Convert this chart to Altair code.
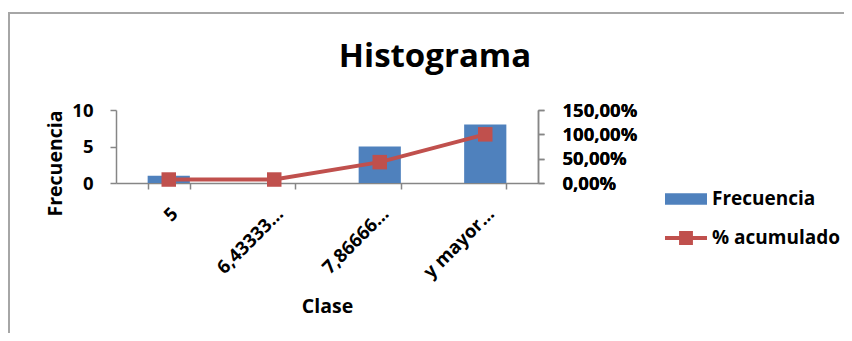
import altair as alt
import pandas as pd

# ---- data ----
clases = ["5", "6,43333…", "7,86666…", "y mayor…"]
frecuencia = [1, 0, 5, 8]
acumulado = [0.0714, 0.0714, 0.4286, 1.0]
freq_ticks = [0, 5, 10]
pct_ticks = [0, 0.5, 1.0, 1.5]

df = pd.DataFrame({"Clase": clases, "Frecuencia": frecuencia, "Acumulado": acumulado})
df["s1"] = "Frecuencia"
df["s2"] = "% acumulado"

BLUE = "#4F81BD"
RED = "#C0504D"
FONT = "Open Sans"
AX = "#868686"

x = alt.X(
    "Clase:N",
    sort=clases,
    scale=alt.Scale(paddingInner=0.6, paddingOuter=0.3),
    axis=alt.Axis(
        title="Clase",
        labelAngle=-45,
        tickBand="extent",
        labelPadding=15,
        labelOffset=-1,
        titleX=211,
        titleY=123,
        titleBaseline="middle",
        titleAlign="center",
    ),
)

bars = (
    alt.Chart(df)
    .mark_bar()
    .encode(
        x=x,
        y=alt.Y(
            "Frecuencia:Q",
            scale=alt.Scale(domain=[0, 10], nice=False),
            axis=alt.Axis(
                title="Frecuencia",
                values=freq_ticks,
                orient="left",
                labelPadding=17,
                titleX=-61,
                titleY=53,
                titleAngle=270,
                titleAlign="center",
                titleBaseline="middle",
            ),
        ),
        fill=alt.Fill(
            "s1:N",
            scale=alt.Scale(domain=["Frecuencia"], range=[BLUE]),
            legend=alt.Legend(
                title=None,
                orient="none",
                legendX=549,
                legendY=68,
                symbolType="M-1,-0.27H1V0.27H-1Z",
                symbolSize=1764,
                symbolStrokeWidth=0,
                labelOffset=5,
                padding=0,
            ),
        ),
    )
)

yr = alt.Y(
    "Acumulado:Q",
    scale=alt.Scale(domain=[0, 1.5], nice=False),
    axis=alt.Axis(
        title=None,
        values=pct_ticks,
        orient="right",
        format=".2%",
        labelExpr="replace(datum.label, '.', ',')",
        labelPadding=18,
    ),
)

line = alt.Chart(df).mark_line(color=RED, strokeWidth=4).encode(x=x, y=yr)

points = (
    alt.Chart(df)
    .mark_square(size=210, opacity=1, filled=True)
    .encode(
        x=x,
        y=yr,
        color=alt.Color(
            "s2:N",
            scale=alt.Scale(domain=["% acumulado"], range=[RED]),
            legend=alt.Legend(
                title=None,
                orient="none",
                legendX=549,
                legendY=107,
                symbolType="M-1,-0.09H-0.33V-0.33H0.33V-0.09H1V0.09H0.33V0.33H-0.33V0.09H-1Z",
                symbolSize=1764,
                symbolStrokeWidth=0,
                labelOffset=5,
                padding=0,
            ),
        ),
    )
)

frame_df = pd.DataFrame({"f": [0]})
frame_top = alt.Chart(frame_df).mark_rule(color="#A6A6A6", strokeWidth=2).encode(
    x=alt.value(-108), x2=alt.value(740), y=alt.value(-97)
)
frame_left = alt.Chart(frame_df).mark_rule(color="#A6A6A6", strokeWidth=2).encode(
    x=alt.value(-107), y=alt.value(-97), y2=alt.value(240)
)

chart = (
    alt.layer(frame_top, frame_left, bars, line, points)
    .resolve_scale(y="independent", fill="independent", color="independent")
    .properties(
        width=422,
        height=73,
        title=alt.TitleParams(
            "Histograma",
            anchor="middle",
            dx=108,
            dy=66,
            fontSize=33,
            font=FONT,
            fontWeight="bold",
            color="#000000",
        ),
        autosize=alt.AutoSizeParams(type="none"),
        padding={"left": 108, "top": 102, "right": 306, "bottom": 150},
    )
    .configure_view(stroke=None)
    .configure_axis(
        grid=False,
        domainColor=AX,
        tickColor=AX,
        tickSize=6,
        domainWidth=1.5,
        tickWidth=1.5,
        labelFont=FONT,
        labelFontSize=18.5,
        labelFontWeight="bold",
        labelColor="#000000",
        titleFont=FONT,
        titleFontSize=19.5,
        titleFontWeight="bold",
        titleColor="#000000",
    )
    .configure_legend(
        labelFont=FONT,
        labelFontSize=19,
        labelFontWeight="bold",
        labelColor="#000000",
    )
)

chart.save("out.html", embed_options={"renderer": "svg", "actions": False})
